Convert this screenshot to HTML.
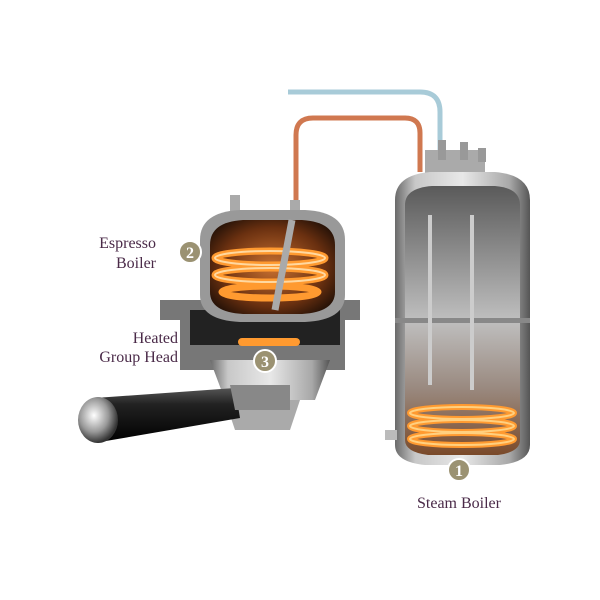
<!DOCTYPE html>
<html><head><meta charset="utf-8"><style>
html,body{margin:0;padding:0;background:#fff;width:600px;height:600px;overflow:hidden}
svg{display:block}
text{font-family:"Liberation Serif",serif;fill:#4a2a48;font-size:16px}
</style></head><body>
<svg width="600" height="600" viewBox="0 0 600 600">
<defs>
<linearGradient id="metal" x1="0" x2="1">
<stop offset="0" stop-color="#6a6a6a"/><stop offset="0.15" stop-color="#c8c8c8"/><stop offset="0.5" stop-color="#e8e8e8"/><stop offset="0.85" stop-color="#a8a8a8"/><stop offset="1" stop-color="#555"/></linearGradient>
<linearGradient id="inner" x1="0" y1="0" x2="0" y2="1">
<stop offset="0" stop-color="#5a5a5a"/><stop offset="0.5" stop-color="#bfbfbf"/><stop offset="0.75" stop-color="#9a8a80"/><stop offset="1" stop-color="#7a4a2a"/></linearGradient>
<radialGradient id="glow" cx="0.5" cy="0.5" r="0.6">
<stop offset="0" stop-color="#c87030"/><stop offset="0.7" stop-color="#6a3010"/><stop offset="1" stop-color="#2a1408"/></radialGradient>
<linearGradient id="handle" x1="0" y1="0" x2="0" y2="1">
<stop offset="0" stop-color="#555"/><stop offset="0.3" stop-color="#222"/><stop offset="1" stop-color="#000"/></linearGradient>
<radialGradient id="cap" cx="0.4" cy="0.4" r="0.6">
<stop offset="0" stop-color="#fff"/><stop offset="0.6" stop-color="#999"/><stop offset="1" stop-color="#333"/></radialGradient>
</defs>
<path d="M288 92 H420 Q440 92 440 112 V170" fill="none" stroke="#a8cbd8" stroke-width="5"/>
<path d="M296 215 V135 Q296 118 313 118 H405 Q420 118 420 133 V172" fill="none" stroke="#d07850" stroke-width="5"/>
<rect x="425" y="150" width="60" height="25" fill="#aaa"/>
<rect x="438" y="140" width="8" height="20" fill="#999"/><rect x="460" y="142" width="8" height="18" fill="#999"/><rect x="478" y="148" width="8" height="14" fill="#999"/>
<path d="M395 200 Q395 175 430 172 H495 Q530 175 530 200 V445 Q530 462 500 465 H425 Q395 462 395 445 Z" fill="url(#metal)"/>
<path d="M405 205 Q405 188 432 186 H495 Q520 188 520 205 V440 Q520 452 498 455 H428 Q405 452 405 440 Z" fill="url(#inner)"/>
<rect x="395" y="318" width="135" height="5" fill="#888"/>
<g fill="none" stroke="#ff9a30" stroke-width="6">
<ellipse cx="462" cy="413" rx="52" ry="6"/><ellipse cx="462" cy="426" rx="52" ry="6"/><ellipse cx="462" cy="439" rx="52" ry="6"/></g>
<g fill="none" stroke="#ffd080" stroke-width="2">
<ellipse cx="462" cy="413" rx="52" ry="6"/><ellipse cx="462" cy="426" rx="52" ry="6"/><ellipse cx="462" cy="439" rx="52" ry="6"/></g>
<rect x="428" y="215" width="4" height="170" fill="#ccc"/><rect x="470" y="215" width="4" height="175" fill="#ccc"/>
<rect x="385" y="430" width="12" height="10" fill="#bbb"/>
<path d="M160 300 H360 V320 H345 V370 H180 V320 H160 Z" fill="#777"/>
<path d="M190 310 H340 V345 H190 Z" fill="#222"/>
<rect x="238" y="338" width="62" height="8" rx="4" fill="#ff9a30"/>
<path d="M210 360 H330 L315 400 H225 Z" fill="url(#metal)"/>
<path d="M225 400 H300 L290 430 H235 Z" fill="#aaa"/>
<rect x="230" y="195" width="10" height="25" fill="#aaa"/><rect x="290" y="200" width="10" height="20" fill="#aaa"/>
<path d="M200 240 Q200 212 240 210 H305 Q345 212 345 240 V295 Q345 320 305 322 H240 Q200 320 200 295 Z" fill="#999"/>
<path d="M210 245 Q210 222 243 220 H302 Q335 222 335 245 V292 Q335 312 302 314 H243 Q210 312 210 292 Z" fill="url(#glow)"/>
<g fill="none" stroke="#ff9a30" stroke-width="7">
<ellipse cx="270" cy="258" rx="55" ry="7"/><ellipse cx="270" cy="275" rx="55" ry="7"/><ellipse cx="270" cy="292" rx="48" ry="6"/></g>
<g fill="none" stroke="#ffd8a0" stroke-width="2">
<ellipse cx="270" cy="258" rx="55" ry="7"/><ellipse cx="270" cy="275" rx="55" ry="7"/></g>
<line x1="292" y1="220" x2="275" y2="310" stroke="#aaa" stroke-width="7"/>
<path d="M95 398 L235 388 L240 418 L100 442 Z" fill="url(#handle)"/>
<ellipse cx="98" cy="420" rx="20" ry="23" fill="url(#cap)"/>
<path d="M230 385 H290 V410 H235 Z" fill="#888"/>
<g fill="#9b9272" stroke="#fff" stroke-width="2">
<circle cx="190" cy="252" r="11"/><circle cx="265" cy="361" r="11"/><circle cx="459" cy="470" r="11"/></g>
<g style="font-family:'Liberation Sans',sans-serif;font-size:15px;font-weight:bold" text-anchor="middle">
<text x="190" y="258" style="fill:#fff">2</text><text x="265" y="367" style="fill:#fff">3</text><text x="459" y="476" style="fill:#fff">1</text></g>
<text x="156" y="248" text-anchor="end">Espresso</text>
<text x="156" y="268" text-anchor="end">Boiler</text>
<text x="178" y="343" text-anchor="end">Heated</text>
<text x="178" y="362" text-anchor="end">Group Head</text>
<text x="459" y="508" text-anchor="middle">Steam Boiler</text>
</svg>
</body></html>
